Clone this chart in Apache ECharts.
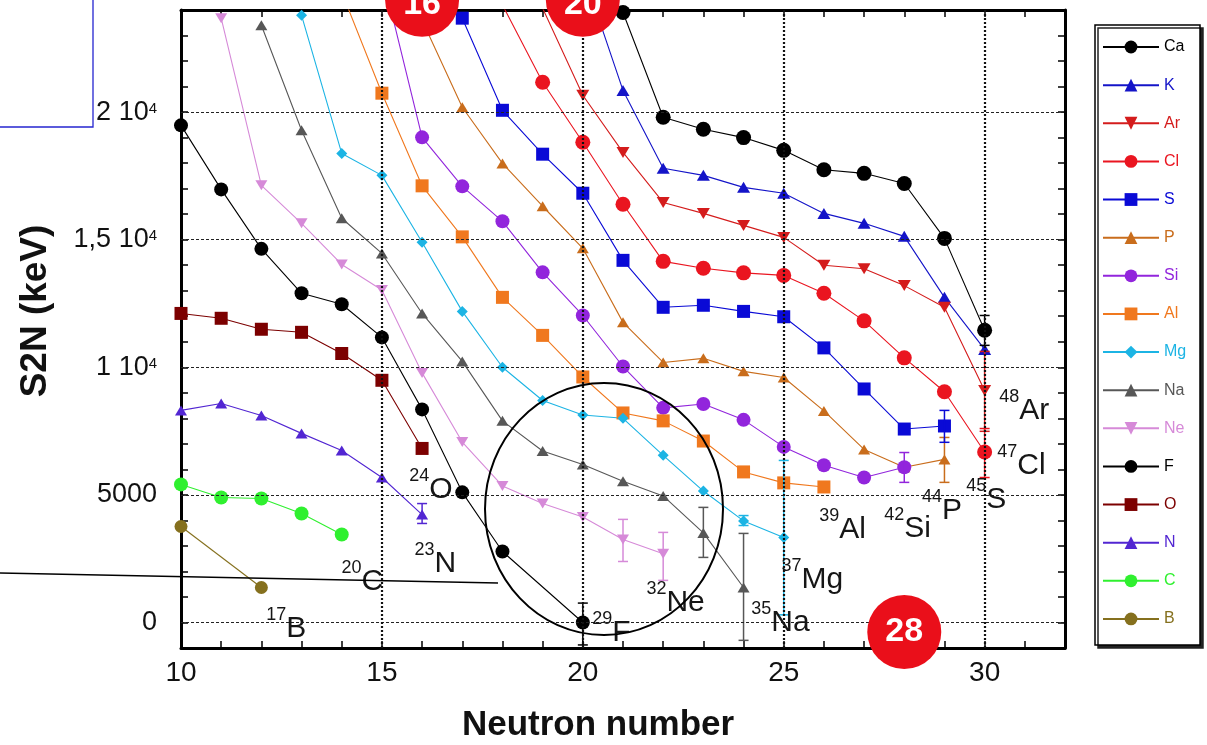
<!DOCTYPE html>
<html>
<head>
<meta charset="utf-8">
<title>S2N vs Neutron number</title>
<script src="https://cdn.jsdelivr.net/npm/echarts@6/dist/echarts.min.js"></script>
<style>
  html, body { margin: 0; padding: 0; background: #fff; }
  #chart { width: 1207px; height: 745px; }
</style>
</head>
<body>
<div id="chart"></div>
<script>
// [N, S2N(keV)] per element
var Ca = [[21,23900],[22,19800],[23,19330],[24,19000],[25,18500],[26,17740],[27,17600],[28,17200],[29,15050],[30,11450]];
var K  = [[20,25500],[21,20850],[22,17800],[23,17520],[24,17050],[25,16820],[26,16030],[27,15640],[28,15130],[29,12740],[30,10700]];
var Ar = [[19,24070],[20,20660],[21,18420],[22,16460],[23,16030],[24,15560],[25,15090],[26,14000],[27,13860],[28,13200],[29,12350],[30,9090]];
var Cl = [[18,24200],[19,21170],[20,18820],[21,16390],[22,14150],[23,13880],[24,13700],[25,13600],[26,12900],[27,11820],[28,10370],[29,9040],[30,6680]];
var S  = [[17,23680],[18,20070],[19,18350],[20,16820],[21,14190],[22,12350],[23,12430],[24,12190],[25,11980],[26,10760],[27,9150],[28,7580],[29,7700]];
var P  = [[16,23600],[17,20190],[18,17990],[19,16310],[20,14660],[21,11760],[22,10190],[23,10350],[24,9840],[25,9600],[26,8290],[27,6780],[28,6080],[29,6390]];
var Si = [[15,25450],[16,19010],[17,17090],[18,15720],[19,13720],[20,12030],[21,10030],[22,8410],[23,8560],[24,7940],[25,6880],[26,6160],[27,5680],[28,6080]];
var Al = [[14,24700],[15,20740],[16,17110],[17,15110],[18,12740],[19,11250],[20,9620],[21,8210],[22,7900],[23,7110],[24,5900],[25,5470],[26,5310]];
var Mg = [[13,23790],[14,18380],[15,17520],[16,14900],[17,12190],[18,10000],[19,8700],[20,8130],[21,8000],[22,6550],[23,5150],[24,3980],[25,3330]];
var Na = [[12,23400],[13,19290],[14,15840],[15,14460],[16,12110],[17,10230],[18,7900],[19,6720],[20,6190],[21,5530],[22,4960],[23,3510],[24,1370]];
var Ne = [[11,23680],[12,17130],[13,15640],[14,14030],[15,13030],[16,9780],[17,7070],[18,5350],[19,4660],[20,4130],[21,3250],[22,2690]];
var F  = [[10,19480],[11,16970],[12,14640],[13,12900],[14,12470],[15,11170],[16,8350],[17,5100],[18,2780],[20,0]];
var O  = [[10,12110],[11,11920],[12,11490],[13,11370],[14,10540],[15,9490],[16,6820]];
var N  = [[10,8310],[11,8580],[12,8110],[13,7410],[14,6740],[15,5680],[16,4230]];
var C  = [[10,5410],[11,4900],[12,4860],[13,4270],[14,3450]];
var B  = [[10,3760],[12,1370]];

// error bars: [element, N, low, high]
var errorBars = [
  ['F',20,-880,760], ['Ne',21,2390,4040], ['Ne',22,1650,3530],
  ['Na',23,2550,4510], ['Na',24,-700,3490], ['Mg',24,3800,4190],
  ['Mg',25,300,6350], ['N',16,3880,4660], ['Si',28,5490,6660],
  ['P',29,5490,7250], ['S',29,7060,8310], ['Ca',30,10860,12030],
  ['Ar',30,7490,10620], ['Cl',30,5680,7600]
];

// last bound isotopes: [mass number, element, N, S2N]
var isotopeLabels = [
  ['24','O',15.67,5210], ['23','N',15.8,2310], ['20','C',13.98,1610],
  ['17','B',12.11,-235], ['29','F',20.22,-390], ['32','Ne',21.57,780],
  ['35','Na',24.18,0], ['37','Mg',24.93,1690], ['39','Al',25.87,3650],
  ['42','Si',27.49,3680], ['44','P',28.43,4390], ['45','S',29.53,4820],
  ['47','Cl',30.3,6150], ['48','Ar',30.35,8310]
];

// magic numbers: [N, S2N, text]
var magicNumbers = [[16,24400,'16'], [20,24400,'20'], [28,-372,'28']];

var gridYValues = [0,5000,10000,15000,20000];
var gridXValues = [15,20,25,30];
var yTickValues = [0,5000,10000,15000,20000];
var yTickText = ['0','5000','1 10^4','1,5 10^4','2 10^4'];

var elements = ['Ca','K','Ar','Cl','S','P','Si','Al','Mg','Na','Ne','F','O','N','C','B'];
var dataOf = {Ca:Ca, K:K, Ar:Ar, Cl:Cl, S:S, P:P, Si:Si, Al:Al, Mg:Mg, Na:Na, Ne:Ne, F:F, O:O, N:N, C:C, B:B};

var colors = {
  Ca:'#000000', K:'#1414c8', Ar:'#d41c1c', Cl:'#ea1520', S:'#0a0ad6', P:'#c96d1c',
  Si:'#9225dc', Al:'#f0781e', Mg:'#1cb4e4', Na:'#575757', Ne:'#d68ad8', F:'#000000',
  O:'#7c0000', N:'#5226d2', C:'#2ff02f', B:'#85701e'
};
var markers = {
  Ca:['circle',15,0], K:['triangle',[13,11],0], Ar:['triangle',[13,11],180], Cl:['circle',15,0],
  S:['rect',13,0], P:['triangle',[12,10],0], Si:['circle',14,0], Al:['rect',13,0],
  Mg:['diamond',11,0], Na:['triangle',[12,10],0], Ne:['triangle',[12,10],180], F:['circle',14,0],
  O:['rect',13,0], N:['triangle',[12,10],0], C:['circle',14,0], B:['circle',13,0]
};

var font = "'Liberation Sans', Arial, Helvetica, sans-serif";
var chart = echarts.init(document.getElementById('chart'), null, {renderer: 'canvas'});

var series = elements.map(function (el) {
  var m = markers[el];
  return {
    name: el,
    type: 'line',
    data: dataOf[el],
    symbol: m[0],
    symbolSize: m[1],
    symbolRotate: m[2],
    clip: true,
    z: 3,
    itemStyle: {color: colors[el]},
    lineStyle: {color: colors[el], width: 1.1}
  };
});

// dotted grid lines
series.push({
  type: 'line',
  data: [],
  z: 1,
  silent: true,
  markLine: {
    silent: true,
    animation: false,
    symbol: ['none','none'],
    label: {show: false},
    data: gridYValues.map(function (v) {
      return {yAxis: v, lineStyle: {type: [3,2], width: 1.2, color: '#222'}};
    }).concat(gridXValues.map(function (v) {
      return {xAxis: v, lineStyle: {type: [2,2], width: 2.2, color: '#111'}};
    }))
  }
});

// error bars
series.push({
  type: 'custom',
  z: 4,
  clip: true,
  silent: true,
  data: errorBars.map(function (e) { return [e[1], e[2], e[3]]; }),
  renderItem: function (params, api) {
    var c = colors[errorBars[params.dataIndex][0]];
    var x = api.value(0);
    var lo = api.coord([x, api.value(1)]);
    var hi = api.coord([x, api.value(2)]);
    var st = {stroke: c, lineWidth: 1.5};
    return {
      type: 'group',
      children: [
        {type: 'line', shape: {x1: lo[0], y1: lo[1], x2: hi[0], y2: hi[1]}, style: st},
        {type: 'line', shape: {x1: lo[0]-5, y1: lo[1], x2: lo[0]+5, y2: lo[1]}, style: st},
        {type: 'line', shape: {x1: hi[0]-5, y1: hi[1], x2: hi[0]+5, y2: hi[1]}, style: st}
      ]
    };
  }
});

// isotope labels
series.push({
  type: 'scatter',
  z: 6,
  silent: true,
  symbolSize: 1,
  itemStyle: {color: 'transparent', opacity: 1},
  data: isotopeLabels.map(function (a) { return {value: [a[2], a[3]], sup: a[0], el: a[1]}; }),
  label: {
    show: true,
    position: 'right',
    distance: 0,
    formatter: function (p) { return '{s|' + p.data.sup + '}{m|' + p.data.el + '}'; },
    rich: {
      s: {fontSize: 18, lineHeight: 18, verticalAlign: 'top', color: '#161616', fontFamily: font},
      m: {fontSize: 30, lineHeight: 45, color: '#161616', fontFamily: font}
    }
  }
});

// magic number badges (the two at the top are cut by the page edge, text sits a bit lower)
series.push({
  type: 'scatter',
  z: 10,
  clip: false,
  silent: true,
  symbol: 'circle',
  symbolSize: 74,
  itemStyle: {color: '#ea0f1a', opacity: 1},
  data: magicNumbers.map(function (m) {
    var item = {value: [m[0], m[1], m[2]]};
    if (m[1] > 24000) item.label = {offset: [0, 5]};
    return item;
  }),
  label: {
    show: true,
    position: 'inside',
    formatter: function (p) { return p.value[2]; },
    color: '#fff',
    fontSize: 34,
    fontWeight: 'bold',
    fontFamily: font
  }
});

function yLabel (v) {
  var i = yTickValues.indexOf(v);
  if (i === -1) return '';
  var t = yTickText[i];
  if (t.indexOf('^') === -1) return '{n|' + t + '}';
  var parts = t.split('^');
  return '{n|' + parts[0] + '}{s|' + parts[1] + '}';
}

var axisLineStyle = {color: '#000', width: 3};
var tickStyle = {inside: true, length: 7, lineStyle: {color: '#000', width: 1.5}};

var option = {
  animation: false,
  backgroundColor: '#fff',
  grid: {left: 181, top: 10, right: 142, bottom: 97},
  xAxis: [{
    type: 'value', min: 10, max: 32, interval: 1, position: 'bottom',
    axisLine: {onZero: false, lineStyle: axisLineStyle},
    axisTick: tickStyle,
    splitLine: {show: false},
    axisLabel: {
      fontSize: 28, color: '#111', margin: 11, fontFamily: font,
      formatter: function (v) { return (v % 5 === 0 && v <= 30) ? String(v) : ''; }
    }
  }, {
    type: 'value', min: 10, max: 32, interval: 1, position: 'top',
    axisLine: {onZero: false, lineStyle: axisLineStyle},
    axisTick: tickStyle,
    splitLine: {show: false},
    axisLabel: {show: false}
  }],
  yAxis: [{
    type: 'value', min: -1000, max: 24000, interval: 1000, position: 'left',
    axisLine: {onZero: false, lineStyle: axisLineStyle},
    axisTick: tickStyle,
    splitLine: {show: false},
    axisLabel: {
      margin: 24,
      formatter: yLabel,
      rich: {
        n: {fontSize: 27, lineHeight: 22, color: '#111', fontFamily: font},
        s: {fontSize: 15, lineHeight: 14, verticalAlign: 'top', color: '#111', fontFamily: font}
      }
    }
  }, {
    type: 'value', min: -1000, max: 24000, interval: 1000, position: 'right',
    axisLine: {onZero: false, lineStyle: axisLineStyle},
    axisTick: tickStyle,
    splitLine: {show: false},
    axisLabel: {show: false}
  }],
  legend: {
    orient: 'vertical',
    left: 1102,
    top: 39,
    padding: 0,
    itemWidth: 56,
    itemHeight: 16,
    itemGap: 22.13,
    selectedMode: false,
    textStyle: {fontSize: 16, fontFamily: font},
    data: elements.map(function (el) {
      return {name: el, textStyle: {color: colors[el]}};
    })
  },
  graphic: [
    // legend frame
    {type: 'rect', z: -1, shape: {x: 1095, y: 25, width: 105, height: 620},
      style: {fill: '#fff', stroke: '#000', lineWidth: 1.5, shadowColor: '#222', shadowOffsetX: 3, shadowOffsetY: 3, shadowBlur: 0}},
    {type: 'text', x: 36, y: 311, rotation: Math.PI / 2,
      style: {text: 'S2N (keV)', fontSize: 37, fontWeight: 'bold', fontFamily: font, fill: '#111', align: 'center', verticalAlign: 'middle'}},
    {type: 'text', x: 598, y: 725,
      style: {text: 'Neutron number', fontSize: 35, fontWeight: 'bold', fontFamily: font, fill: '#111', align: 'center', verticalAlign: 'middle'}},
    // hand drawn annotations
    {type: 'ellipse', z: 20, shape: {cx: 604, cy: 509, rx: 119, ry: 126},
      style: {fill: 'none', stroke: '#000', lineWidth: 2}},
    {type: 'line', z: 20, shape: {x1: 0, y1: 573, x2: 498, y2: 583},
      style: {stroke: '#000', lineWidth: 1.6}},
    {type: 'rect', z: 20, shape: {x: -5, y: -5, width: 98, height: 132},
      style: {fill: 'none', stroke: '#2626d0', lineWidth: 1.3}}
  ],
  series: series
};

chart.setOption(option);
</script>
</body>
</html>
